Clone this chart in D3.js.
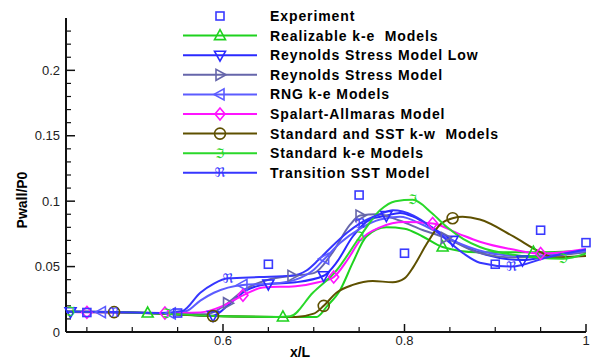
<!DOCTYPE html>
<html>
<head>
<meta charset="utf-8">
<script src="https://cdn.jsdelivr.net/npm/d3@7.9.0/dist/d3.min.js"></script>
<style>
  body { margin: 0; background: #fff; }
  svg text { font-family: "Liberation Sans", Arial, sans-serif; white-space: pre; }
</style>
</head>
<body>
<svg id="chart" width="592" height="360"></svg>
<script>
// experiment points
const expX = [0.45, 0.55, 0.65, 0.75, 0.80, 0.90, 0.95, 1.0];
const expY = [0.0149, 0.0145, 0.0518, 0.1047, 0.0602, 0.0518, 0.0778, 0.0683];

// model curves: [x/L, Pwall/P0]
const realizable = [[0.427,0.0155],[0.517,0.0145],[0.60,0.012],[0.666,0.0115],[0.703,0.0115],[0.715,0.020],[0.729,0.032],[0.743,0.053],[0.758,0.073],[0.78,0.080],[0.80,0.079],[0.82,0.073],[0.842,0.065],[0.88,0.061],[0.942,0.061],[1.0,0.062]];
const realizableMarks = [1, 3, 12, 14];

const rsmLow = [[0.427,0.0155],[0.432,0.0155],[0.52,0.0145],[0.589,0.0125],[0.608,0.022],[0.626,0.032],[0.65,0.0367],[0.68,0.038],[0.711,0.043],[0.725,0.053],[0.743,0.073],[0.762,0.086],[0.78,0.089],[0.795,0.091],[0.81,0.088],[0.83,0.080],[0.853,0.070],[0.89,0.059],[0.93,0.055],[0.96,0.058],[1.0,0.062]];
const rsmLowMarks = [1, 3, 6, 8, 12, 16, 18];

const rsm = [[0.427,0.0155],[0.53,0.0145],[0.58,0.0135],[0.592,0.016],[0.605,0.022],[0.625,0.033],[0.65,0.040],[0.676,0.043],[0.70,0.045],[0.72,0.060],[0.74,0.082],[0.751,0.089],[0.77,0.090],[0.795,0.085],[0.82,0.078],[0.845,0.072],[0.88,0.061],[0.92,0.057],[0.96,0.058],[1.0,0.061]];
const rsmMarks = [4, 7, 11, 15];

const rng = [[0.427,0.0155],[0.466,0.0152],[0.543,0.0142],[0.56,0.016],[0.575,0.024],[0.59,0.030],[0.622,0.036],[0.655,0.037],[0.68,0.040],[0.699,0.047],[0.712,0.056],[0.729,0.068],[0.751,0.079],[0.773,0.086],[0.795,0.088],[0.82,0.082],[0.85,0.071],[0.89,0.061],[0.93,0.058],[1.0,0.062]];
const rngMarks = [1, 2, 6, 10];

const spalart = [[0.427,0.0155],[0.45,0.015],[0.536,0.0145],[0.575,0.015],[0.60,0.020],[0.622,0.028],[0.644,0.034],[0.68,0.035],[0.705,0.038],[0.722,0.042],[0.737,0.055],[0.751,0.070],[0.773,0.080],[0.80,0.084],[0.831,0.083],[0.86,0.075],[0.883,0.069],[0.92,0.063],[0.95,0.060],[1.0,0.0635]];
const spalartMarks = [1, 2, 5, 9, 14, 18];

const kw = [[0.427,0.0155],[0.48,0.0152],[0.589,0.0122],[0.68,0.0115],[0.70,0.014],[0.711,0.020],[0.725,0.030],[0.743,0.036],[0.765,0.039],[0.787,0.038],[0.80,0.041],[0.81,0.050],[0.825,0.068],[0.839,0.082],[0.853,0.087],[0.864,0.088],[0.883,0.086],[0.92,0.073],[0.95,0.061],[0.964,0.057],[1.0,0.058]];
const kwMarks = [1, 2, 5, 14];

const standardKe = [[0.427,0.0155],[0.432,0.0155],[0.538,0.014],[0.60,0.012],[0.66,0.0115],[0.674,0.012],[0.699,0.030],[0.725,0.047],[0.751,0.073],[0.773,0.093],[0.79,0.100],[0.809,0.101],[0.83,0.091],[0.847,0.080],[0.865,0.071],[0.883,0.065],[0.92,0.059],[0.975,0.056],[1.0,0.060]];
const standardKeMarks = [1, 2, 8, 11, 17];

const transition = [[0.427,0.0155],[0.48,0.0152],[0.53,0.0145],[0.555,0.016],[0.575,0.030],[0.59,0.037],[0.6055,0.041],[0.64,0.042],[0.675,0.043],[0.692,0.047],[0.705,0.055],[0.718,0.064],[0.737,0.076],[0.751,0.083],[0.773,0.090],[0.787,0.093],[0.81,0.089],[0.83,0.080],[0.847,0.070],[0.865,0.060],[0.883,0.053],[0.918,0.050],[0.957,0.057],[1.0,0.063]];
const transitionMarks = [1, 6, 13, 21];

const xMajor = [0.6, 0.8, 1.0];
const xMinor = [0.45, 0.5, 0.55, 0.65, 0.7, 0.75, 0.85, 0.9, 0.95];
const yMajor = [0, 0.05, 0.1, 0.15, 0.2];
const yMinor = d3.range(1, 24).map(i => i / 100).filter(v => Math.round(v * 100) % 5 !== 0);

const series = [
  { name: "Realizable k-e  Models", data: realizable, marks: realizableMarks, color: "#1ed21e", sym: "triUp" },
  { name: "Reynolds Stress Model Low", data: rsmLow, marks: rsmLowMarks, color: "#2a2aff", sym: "triDown" },
  { name: "Reynolds Stress Model", data: rsm, marks: rsmMarks, color: "#6666aa", sym: "triRight" },
  { name: "RNG k-e Models", data: rng, marks: rngMarks, color: "#5c5cff", sym: "triLeft" },
  { name: "Spalart-Allmaras Model", data: spalart, marks: spalartMarks, color: "#ff14ff", sym: "diamond" },
  { name: "Standard and SST k-w  Models", data: kw, marks: kwMarks, color: "#5e5000", sym: "circle" },
  { name: "Standard k-e Models", data: standardKe, marks: standardKeMarks, color: "#2ad82a", sym: "frakI" },
  { name: "Transition SST Model", data: transition, marks: transitionMarks, color: "#3636ff", sym: "frakR" },
];

const svg = d3.select("#chart");
const x = d3.scaleLinear().domain([0.427, 1.0]).range([66, 586]);
const y = d3.scaleLinear().domain([0, 0.24]).range([332, 18]);

function drawSymbol(g, sym, cx, cy, color) {
  const shapes = {
    triUp: "M0,-6L5.5,4L-5.5,4Z",
    triDown: "M0,6L5.5,-4L-5.5,-4Z",
    triRight: "M6,0L-4,-5.5L-4,5.5Z",
    triLeft: "M-6,0L4,-5.5L4,5.5Z",
    diamond: "M0,-6L5,0L0,6L-5,0Z",
  };
  if (shapes[sym]) {
    g.append("path").attr("d", shapes[sym])
      .attr("transform", `translate(${cx},${cy})`)
      .attr("fill", "none").attr("stroke", color).attr("stroke-width", 1.6);
  } else if (sym === "circle") {
    g.append("circle").attr("cx", cx).attr("cy", cy).attr("r", 5.5)
      .attr("fill", "none").attr("stroke", color).attr("stroke-width", 1.6);
  } else if (sym === "square") {
    g.append("rect").attr("x", cx - 4).attr("y", cy - 4).attr("width", 8).attr("height", 8)
      .attr("fill", "none").attr("stroke", color).attr("stroke-width", 1.6);
  } else {
    g.append("text").attr("x", cx).attr("y", cy + 4.5)
      .attr("text-anchor", "middle")
      .style("font-family", "'DejaVu Sans', sans-serif")
      .style("font-size", "13px")
      .attr("fill", color)
      .text(sym === "frakI" ? "\u2111" : "\u211C");
  }
}

// axes
const axisG = svg.append("g");
axisG.append("line").attr("x1", x(0.427)).attr("x2", x(1.0)).attr("y1", y(0)).attr("y2", y(0))
  .attr("stroke", "#111").attr("stroke-width", 2);
axisG.append("line").attr("x1", x(0.427)).attr("x2", x(0.427)).attr("y1", y(0)).attr("y2", y(0.24))
  .attr("stroke", "#111").attr("stroke-width", 2);

axisG.selectAll(".xmaj").data(xMajor).join("line")
  .attr("x1", d => x(d)).attr("x2", d => x(d)).attr("y1", y(0)).attr("y2", y(0) - 8)
  .attr("stroke", "#111").attr("stroke-width", 1.5);
axisG.selectAll(".xmin").data(xMinor).join("line")
  .attr("x1", d => x(d)).attr("x2", d => x(d)).attr("y1", y(0)).attr("y2", y(0) - 5)
  .attr("stroke", "#111").attr("stroke-width", 1.2);
axisG.selectAll(".ymaj").data(yMajor.slice(1)).join("line")
  .attr("x1", x(0.427)).attr("x2", x(0.427) + 9).attr("y1", d => y(d)).attr("y2", d => y(d))
  .attr("stroke", "#111").attr("stroke-width", 1.5);
axisG.selectAll(".ymin").data(yMinor).join("line")
  .attr("x1", x(0.427)).attr("x2", x(0.427) + 5).attr("y1", d => y(d)).attr("y2", d => y(d))
  .attr("stroke", "#111").attr("stroke-width", 1.2);

const fmt = d3.format("~g");
axisG.selectAll(".xlab").data(xMajor).join("text")
  .attr("x", d => x(d)).attr("y", y(0) + 13)
  .attr("text-anchor", "middle").style("font-size", "13px").attr("fill", "#222")
  .text(d => fmt(d));
axisG.selectAll(".ylab").data(yMajor).join("text")
  .attr("x", x(0.427) - 6).attr("y", d => y(d) + 4.5)
  .attr("text-anchor", "end").style("font-size", "13px").attr("fill", "#222")
  .text(d => fmt(d));

svg.append("text").attr("x", 300).attr("y", 357).attr("text-anchor", "middle")
  .style("font-size", "14px").style("font-weight", "bold").text("x/L");
svg.append("text").attr("transform", "translate(27,200) rotate(-90)").attr("text-anchor", "middle")
  .style("font-size", "14px").style("font-weight", "bold").text("Pwall/P0");

// curves
svg.append("clipPath").attr("id", "clip").append("rect")
  .attr("x", x(0.427)).attr("y", y(0.24)).attr("width", x(1.0) - x(0.427)).attr("height", y(0) - y(0.24));

const line = d3.line().x(d => x(d[0])).y(d => y(d[1])).curve(d3.curveMonotoneX);
const plot = svg.append("g").attr("clip-path", "url(#clip)");
series.forEach(s => {
  plot.append("path").datum(s.data).attr("d", line)
    .attr("fill", "none").attr("stroke", s.color).attr("stroke-width", 2);
});
const symG = svg.append("g");
series.forEach(s => {
  s.marks.forEach(i => drawSymbol(symG, s.sym, x(s.data[i][0]), y(s.data[i][1]), s.color));
});
expX.forEach((v, i) => drawSymbol(symG, "square", x(v), y(expY[i]), "#3a3aff"));

// legend
const legend = svg.append("g");
const rowY = i => 16 + i * 19.6;
drawSymbol(legend, "square", 220, rowY(0), "#3a3aff");
legend.append("text").attr("x", 270).attr("y", rowY(0) + 5)
  .style("font-size", "14px").style("font-weight", "bold").style("letter-spacing", "0.9px").text("Experiment");
series.forEach((s, i) => {
  const yy = rowY(i + 1);
  legend.append("line").attr("x1", 183).attr("x2", 257).attr("y1", yy).attr("y2", yy)
    .attr("stroke", s.color).attr("stroke-width", 2);
  drawSymbol(legend, s.sym, 220, yy, s.color);
  legend.append("text").attr("x", 270).attr("y", yy + 5)
    .style("font-size", "14px").style("font-weight", "bold").style("letter-spacing", "0.9px").text(s.name);
});
</script>
</body>
</html>
